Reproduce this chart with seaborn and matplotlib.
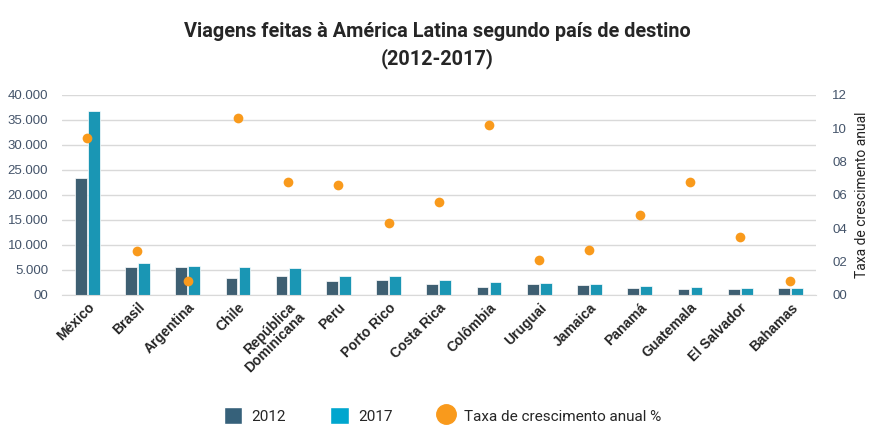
import matplotlib
matplotlib.use("Agg")
import matplotlib.pyplot as plt
from matplotlib.patches import Patch
from matplotlib.lines import Line2D
import seaborn as sns
import pandas as pd

countries = ["México", "Brasil", "Argentina", "Chile", "República\nDominicana", "Peru",
             "Porto Rico", "Costa Rica", "Colômbia", "Uruguai", "Jamaica", "Panamá",
             "Guatemala", "El Salvador", "Bahamas"]
trips_2012 = [23400, 5500, 5500, 3300, 3800, 2700, 3000, 2200, 1500, 2100, 1900, 1400, 1100, 1100, 1300]
trips_2017 = [36700, 6300, 5700, 5500, 5300, 3800, 3700, 3000, 2500, 2300, 2200, 1800, 1600, 1400, 1400]
growth = [9.4, 2.6, 0.8, 10.6, 6.8, 6.6, 4.3, 5.6, 10.2, 2.1, 2.7, 4.8, 6.8, 3.5, 0.8]
years = ["2012", "2017"]
left_ticks = [0, 5000, 10000, 15000, 20000, 25000, 30000, 35000, 40000]
left_labels = ["00", "5.000", "10.000", "15.000", "20.000", "25.000", "30.000", "35.000", "40.000"]
right_ticks = [0, 2, 4, 6, 8, 10, 12]
right_labels = ["00", "02", "04", "06", "08", "10", "12"]

c2012 = "#36617a"
c2017 = "#00a6ce"
corange = "#f99a1c"
tick_col = "#44546a"

bars = pd.DataFrame({
    "País": countries * 2,
    "Ano": [years[0]] * len(countries) + [years[1]] * len(countries),
    "Viagens": trips_2012 + trips_2017,
})
rate = pd.DataFrame({"País": countries, "Taxa": growth})

sns.set_style("white")
plt.rcParams["font.family"] = ["Roboto", "DejaVu Sans"]

fig = plt.figure(figsize=(8.75, 4.48), dpi=100)
ax = fig.add_axes([0.071, 0.342, 0.861, 0.446])

sns.barplot(data=bars, x="País", y="Viagens", hue="Ano", order=countries,
            palette=[c2012, c2017], width=0.52, gap=0.1, ax=ax, legend=False,
            edgecolor="white", linewidth=0.5)
ax.set_ylim(0, 40000)
ax.set_yticks(left_ticks)
ax.set_yticklabels(left_labels, color=tick_col, fontsize=9.5, family=["Liberation Sans"])
ax.yaxis.grid(True, color="#d9d9d9", linewidth=1)
ax.set_axisbelow(True)
for s in ["left", "right", "top"]:
    ax.spines[s].set_visible(False)
ax.spines["bottom"].set_color("#d9d9d9")
ax.tick_params(axis="y", length=0, pad=10)
ax.tick_params(axis="x", length=0, pad=4)
ax.set_xlabel("")
ax.set_ylabel("")

ax2 = ax.twinx()
sns.stripplot(data=rate, x="País", y="Taxa", order=countries, jitter=False,
              color=corange, size=7, ax=ax2)
ax2.set_ylim(0, 12)
ax2.set_yticks(right_ticks)
ax2.set_yticklabels(right_labels, color=tick_col, fontsize=9.5, family=["Liberation Sans"])
ax2.tick_params(axis="y", length=0, pad=12)
for s in ["left", "right", "top", "bottom"]:
    ax2.spines[s].set_visible(False)
ax2.set_ylabel("Taxa de crescimento anual", fontsize=10, labelpad=6, color="#222222")
ax2.set_xlim(-0.5, len(countries) - 0.5)
ax.set_xlim(-0.5, len(countries) - 0.5)

ax.set_xticks(range(len(countries)))
ax.set_xticklabels(countries, rotation=45, ha="right", rotation_mode="anchor",
                   fontsize=10, fontweight="bold", family=["Liberation Sans"],
                   linespacing=1.0)
ax2.set_xlabel("")

fig.suptitle("Viagens feitas à América Latina segundo país de destino\n(2012-2017)",
             x=0.5, y=0.95, fontsize=14.3, fontweight="bold", linespacing=1.4)

handles = [
    Patch(facecolor=c2012, label="2012"),
    Patch(facecolor=c2017, label="2017"),
    Line2D([], [], marker="o", linestyle="none", markersize=14, color=corange,
           label="Taxa de crescimento anual %"),
]
fig.legend(handles=handles, loc="center", bbox_to_anchor=(0.506, 0.072), ncol=3,
           frameon=False, fontsize=11, handlelength=1.2, handleheight=1.35,
           columnspacing=2.9, handletextpad=0.6)

fig.savefig("out.png", dpi=100)
